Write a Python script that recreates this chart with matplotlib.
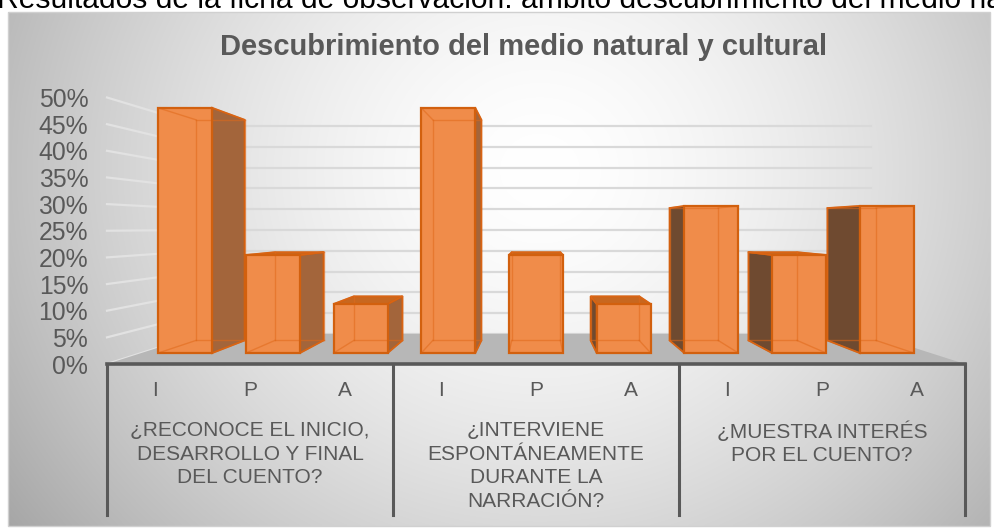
import numpy as np
import matplotlib
matplotlib.use("Agg")
import matplotlib.pyplot as plt
from matplotlib.patches import Polygon, Rectangle
from matplotlib.transforms import blended_transform_factory

plt.rcParams["font.family"] = ["Liberation Sans", "DejaVu Sans"]

# ---------------- data ----------------
header = "Resultados de la ficha de observación: ámbito descubrimiento del medio natural y cultural"
title = "Descubrimiento del medio natural y cultural"
groups = ["¿RECONOCE EL INICIO,\nDESARROLLO Y FINAL\nDEL CUENTO?",
          "¿INTERVIENE\nESPONTÁNEAMENTE\nDURANTE LA\nNARRACIÓN?",
          "¿MUESTRA INTERÉS\nPOR EL CUENTO?"]
levels = ["I", "P", "A"]
g1_values = [50, 20, 10]
g2_values = [50, 20, 10]
g3_values = [30, 20, 30]
yticks = [0, 5, 10, 15, 20, 25, 30, 35, 40, 45, 50]

values = g1_values + g2_values + g3_values
labels = levels * len(groups)
n = len(values)

# ---------------- style ----------------
TXT = "#595959"
FRONT = "#F08C4A"
EDGE = "#D2600E"
INNER = "#E0691A"
SIDE_R = "#A3653B"
SIDE_L = "#6F4A30"
TOP = "#C8671F"
FLOOR = "#b7b7b7"
GRID = "#d9d9d9"

W, H = 994, 531
fig = plt.figure(figsize=(W / 100, H / 100), dpi=100)

# background (chart area with radial gradient)
bg = fig.add_axes([0, 0, 1, 1])
bg.set_xlim(0, W)
bg.set_ylim(H, 0)
bg.axis("off")
bx0, bx1, by0, by1 = 8, 990, 12, 526
xx, yy = np.meshgrid(np.linspace(bx0, bx1, 400), np.linspace(by0, by1, 220))
r = np.sqrt(((xx - 540) / 560.0) ** 2 + ((yy - 170) / 520.0) ** 2)
g = 1.0 - 0.27 * np.clip(r, 0, 1.2) ** 1.6
img = np.dstack([g, g, g])
bg.imshow(img, extent=(bx0, bx1, by1, by0), aspect="auto", interpolation="bilinear", zorder=0)
bg.add_patch(Rectangle((bx0, by0), bx1 - bx0, by1 - by0, fill=False, ec="#d0d0d0", lw=1, zorder=1))
bg.text(-3, 8, header, fontsize=21.6, color="black", ha="left", va="baseline", zorder=2)
bg.text(524, 47, title, fontsize=21, fontweight="bold", color=TXT, ha="center", va="center", zorder=2)

# main axes = front plane of the 3D box
ax = fig.add_axes([107 / W, (H - 364) / H, 858 / W, 266.5 / H])
ax.set_xlim(-0.5, n - 0.5)
ax.set_ylim(0, max(yticks))
ax.patch.set_visible(False)
for sp in ax.spines.values():
    sp.set_visible(False)
ax.set_xticks([])
ax.set_yticks(yticks)
ax.set_yticklabels([f"{v}%" for v in yticks])
ax.tick_params(axis="y", length=0, pad=13.5, labelsize=17.8, labelcolor=TXT)

# perspective
VX = (n - 1) / 2.0
VY = 25.7
S_BAR_F, S_BAR_B, S_WALL = 0.92, 0.828, 0.78
x_lo, x_hi = -0.5, n - 0.5


def proj(x, y, s):
    return (VX + (x - VX) * s, VY + (y - VY) * s)


# gridlines on left wall and back wall
for v in yticks:
    a = proj(x_lo, v, 1.0)
    b = proj(x_lo, v, S_WALL)
    c = proj(x_hi, v, S_WALL)
    ax.plot([a[0], b[0]], [a[1], b[1]], color="#e2e2e2", lw=1.6, zorder=1, clip_on=False)
    ax.plot([b[0], c[0]], [b[1], c[1]], color=GRID, lw=1.6, zorder=1, clip_on=False)

# floor
floor = [proj(x_lo, 0, 1.0), proj(x_hi, 0, 1.0), proj(x_hi, 0, S_WALL), proj(x_lo, 0, S_WALL)]
ax.add_patch(Polygon(floor, closed=True, fc=FLOOR, ec="none", zorder=2, clip_on=False))

# bars
bw = 0.616
order = sorted(range(n), key=lambda i: -abs(i - VX))
z = 3
for i in order:
    v = values[i]
    xl, xr = i - bw / 2, i + bw / 2
    F = [proj(xl, 0, S_BAR_F), proj(xr, 0, S_BAR_F), proj(xr, v, S_BAR_F), proj(xl, v, S_BAR_F)]
    B = [proj(xl, 0, S_BAR_B), proj(xr, 0, S_BAR_B), proj(xr, v, S_BAR_B), proj(xl, v, S_BAR_B)]
    # side faces
    if xr < VX:
        ax.add_patch(Polygon([F[1], B[1], B[2], F[2]], closed=True, fc=SIDE_R, ec=EDGE, lw=1.3, zorder=z, clip_on=False))
    if xl > VX:
        ax.add_patch(Polygon([F[0], B[0], B[3], F[3]], closed=True, fc=SIDE_L, ec=EDGE, lw=1.3, zorder=z, clip_on=False))
    if v < VY:
        ax.add_patch(Polygon([F[3], F[2], B[2], B[3]], closed=True, fc=TOP, ec=EDGE, lw=1.3, zorder=z, clip_on=False))
    # front face
    ax.add_patch(Polygon(F, closed=True, fc=FRONT, ec="none", zorder=z + 0.1, clip_on=False))
    # hidden edges seen through translucent front face
    for k in range(4):
        p, q = B[k], B[(k + 1) % 4]
        ax.plot([p[0], q[0]], [p[1], q[1]], color=INNER, lw=1.0, alpha=0.55, zorder=z + 0.2, clip_on=False)
        p, q = F[k], B[k]
        ax.plot([p[0], q[0]], [p[1], q[1]], color=INNER, lw=1.0, alpha=0.55, zorder=z + 0.2, clip_on=False)
    ax.add_patch(Polygon(F, closed=True, fc="none", ec=EDGE, lw=1.6, zorder=z + 0.3, clip_on=False))
    z += 1

# category axis: base line, separators, labels
trans = blended_transform_factory(ax.transData, ax.transAxes)
ax.plot([x_lo, x_hi], [0, 0], color=TXT, lw=2.6, zorder=50, clip_on=False, solid_capstyle="projecting")
for gi in range(len(groups) + 1):
    xs = x_lo + gi * len(levels)
    ax.plot([xs, xs], [0, -0.567], color=TXT, lw=2.2, transform=trans, zorder=50, clip_on=False)
for i, lab in enumerate(labels):
    ax.text(i, -0.1, lab, transform=trans, ha="center", va="center", fontsize=15, color=TXT, clip_on=False)
for gi, gl in enumerate(groups):
    xc = gi * len(levels) + (len(levels) - 1) / 2
    ax.text(xc, -0.215, gl, transform=trans, ha="center", va="top", fontsize=15, color=TXT,
            linespacing=1.3, multialignment="center", clip_on=False)

fig.savefig("out.png", dpi=100)
